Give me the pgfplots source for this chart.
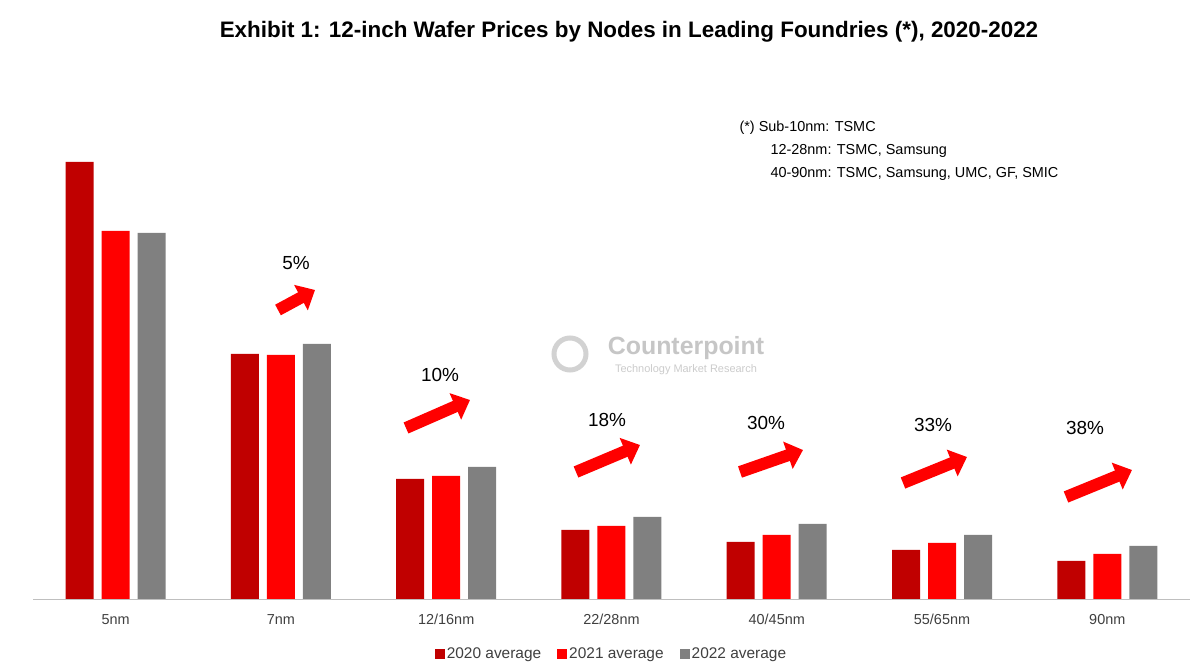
\documentclass[border=0pt]{standalone}
\usepackage{pgfplots}
\pgfplotsset{compat=1.18}
\usepackage{fontspec}
\setmainfont{Liberation Sans}
\usetikzlibrary{arrows.meta}
\definecolor{c20}{HTML}{C00000}
\definecolor{c21}{HTML}{FF0000}
\definecolor{c22}{HTML}{808080}
\definecolor{tx}{HTML}{404040}
\begin{document}
\begin{tikzpicture}[x=1bp,y=1bp]
\path[fill=white] (0,0) rectangle (1200,670);
\begin{axis}[at={(33bp,71bp)},anchor=south west,scale only axis,
 width=1157bp,height=500bp,ymin=0,ymax=500,xmin=-0.5,xmax=6.5,
 axis y line=none,axis x line*=bottom,x axis line style={draw=gray!50},
 xtick=data,xticklabels={5nm,7nm,12/16nm,22/28nm,40/45nm,55/65nm,90nm},
 major tick length=0pt,xticklabel style={font=\fontsize{14.5}{15}\selectfont,text=tx,yshift=-12bp},
 ybar,bar width=28bp,
 legend style={at={(0.5,-0.09)},anchor=north,draw=none,legend columns=3,font=\fontsize{15.5}{16}\selectfont,text=tx,
   /tikz/every even column/.append style={column sep=14bp}},
 legend image code/.code={\fill[#1] (0bp,-5bp) rectangle (10bp,5bp);}]
\addplot[fill=c20,draw=none,bar shift=-36bp] coordinates {(0,437) (1,245) (2,120) (3,69) (4,57) (5,49) (6,38)};
\addplot[fill=c21,draw=none,bar shift=0bp] coordinates {(0,368) (1,244) (2,123) (3,73) (4,64) (5,56) (6,45)};
\addplot[fill=c22,draw=none,bar shift=36bp] coordinates {(0,366) (1,255) (2,132) (3,82) (4,75) (5,64) (6,53)};
\legend{2020 average,2021 average,2022 average}
\end{axis}
\node[font=\bfseries\fontsize{22.5}{26}\selectfont] at (629,638) {Exhibit 1: 12-inch Wafer Prices by Nodes in Leading Foundries (*), 2020-2022};
\node[anchor=north west,align=left,font=\fontsize{14.5}{23}\selectfont] at (736,552) {(*) Sub-10nm: TSMC\\\hspace*{31bp}12-28nm: TSMC, Samsung\\\hspace*{31bp}40-90nm: TSMC, Samsung, UMC, GF, SMIC};
\node[text=gray!45,font=\bfseries\fontsize{25}{26}\selectfont] at (686,322) {Counterpoint};
\node[text=gray!40,font=\fontsize{11}{12}\selectfont] at (686,300) {Technology Market Research};
\draw[gray!35,line width=5bp] (570,316) circle (16bp);
\foreach \xa/\ya/\xb/\yb/\lx/\ly/\t in {278/360/315/380/296/407/5\%,406/242/470/270/440/295/10\%,576/198/640/225/607/250/18\%,740/198/803/220/766/247/30\%,903/187/967/213/933/245/33\%,1066/173/1132/200/1085/242/38\%}{
 \draw[c21,line width=12bp,-{Triangle[length=16bp,width=28bp]}] (\xa,\ya) -- (\xb,\yb);
 \node[font=\fontsize{19}{22}\selectfont] at (\lx,\ly) {\t};
}
\end{tikzpicture}
\end{document}
